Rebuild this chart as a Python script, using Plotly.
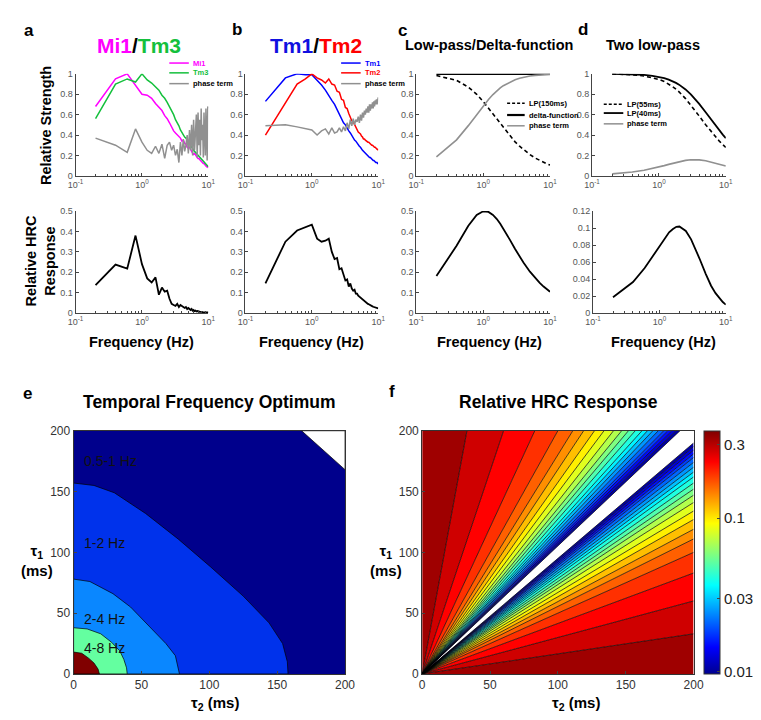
import math
import plotly.graph_objects as go
from plotly.colors import sample_colorscale

W, H = 761, 720
FONT = "Liberation Sans"

# ---------------- data: panels a, b (measured responses) ----------------
freq = [0.2, 0.4, 0.6, 0.8, 1.0, 1.2, 1.4, 1.6, 1.8, 2.0,
        2.2, 2.4, 2.6, 2.8, 3.0, 3.2, 3.4, 3.6, 3.8, 4.0,
        4.2, 4.4, 4.6, 4.8, 5.0, 5.2, 5.4, 5.6, 5.8, 6.0,
        6.2, 6.4, 6.6, 6.8, 7.0, 7.2, 7.4, 7.6, 7.8, 8.0,
        8.2, 8.4, 8.6, 8.8, 9.0, 9.2, 9.4, 9.6, 9.8, 10.0]

mi1 = [0.68, 0.95, 1.00, 0.88, 0.80, 0.79, 0.76, 0.71, 0.67, 0.64,
       0.59, 0.56, 0.52, 0.47, 0.44, 0.42, 0.40, 0.38, 0.37, 0.34,
       0.35, 0.32, 0.31, 0.28, 0.27, 0.28, 0.25, 0.24, 0.22, 0.21,
       0.22, 0.20, 0.19, 0.18, 0.17, 0.17, 0.16, 0.15, 0.14, 0.14,
       0.13, 0.12, 0.12, 0.11, 0.10, 0.10, 0.09, 0.09, 0.08, 0.08]
tm3 = [0.56, 0.90, 0.95, 0.92, 1.00, 0.94, 0.91, 0.87, 0.84, 0.79,
       0.76, 0.72, 0.68, 0.64, 0.60, 0.55, 0.52, 0.49, 0.45, 0.42,
       0.40, 0.38, 0.37, 0.34, 0.33, 0.31, 0.30, 0.28, 0.27, 0.25,
       0.24, 0.23, 0.22, 0.21, 0.20, 0.19, 0.18, 0.18, 0.17, 0.16,
       0.15, 0.15, 0.14, 0.13, 0.13, 0.12, 0.11, 0.11, 0.10, 0.09]
phase_a = [0.37, 0.30, 0.23, 0.46, 0.33, 0.25, 0.22, 0.29, 0.22, 0.31,
           0.17, 0.30, 0.33, 0.25, 0.30, 0.20, 0.26, 0.13, 0.33, 0.20,
           0.36, 0.24, 0.30, 0.40, 0.22, 0.45, 0.25, 0.50, 0.20, 0.55,
           0.25, 0.42, 0.60, 0.18, 0.62, 0.30, 0.55, 0.20, 0.66, 0.35,
           0.50, 0.18, 0.62, 0.40, 0.20, 0.66, 0.45, 0.15, 0.68, 0.66]
hrc_a = [0.137, 0.238, 0.218, 0.380, 0.240, 0.170, 0.150, 0.175, 0.090, 0.125,
         0.105, 0.110, 0.070, 0.045, 0.040, 0.035, 0.045, 0.030, 0.040, 0.035,
         0.030, 0.025, 0.030, 0.020, 0.025, 0.020, 0.015, 0.020, 0.012, 0.015,
         0.010, 0.012, 0.008, 0.010, 0.007, 0.008, 0.006, 0.007, 0.005, 0.006,
         0.005, 0.005, 0.004, 0.005, 0.004, 0.004, 0.004, 0.003, 0.004, 0.003]

tm1 = [0.73, 0.96, 1.00, 0.99, 0.99, 0.94, 0.89, 0.84, 0.78, 0.74,
       0.70, 0.65, 0.61, 0.57, 0.52, 0.50, 0.46, 0.44, 0.42, 0.39,
       0.37, 0.35, 0.34, 0.32, 0.30, 0.29, 0.28, 0.27, 0.25, 0.24,
       0.23, 0.22, 0.21, 0.21, 0.20, 0.19, 0.18, 0.18, 0.17, 0.16,
       0.16, 0.15, 0.15, 0.14, 0.14, 0.13, 0.13, 0.13, 0.12, 0.12]
tm2 = [0.40, 0.72, 0.90, 0.95, 1.00, 0.96, 0.94, 0.91, 0.95, 0.90,
       0.89, 0.83, 0.82, 0.75, 0.74, 0.67, 0.66, 0.61, 0.58, 0.54,
       0.53, 0.50, 0.48, 0.45, 0.43, 0.42, 0.41, 0.39, 0.38, 0.36,
       0.36, 0.35, 0.34, 0.34, 0.33, 0.33, 0.32, 0.31, 0.31, 0.30,
       0.30, 0.29, 0.29, 0.28, 0.28, 0.27, 0.27, 0.26, 0.26, 0.25]
phase_b = [0.49, 0.50, 0.48, 0.46, 0.45, 0.40, 0.44, 0.46, 0.41, 0.47,
           0.42, 0.43, 0.47, 0.43, 0.48, 0.44, 0.52, 0.46, 0.55, 0.49,
           0.56, 0.50, 0.55, 0.53, 0.58, 0.52, 0.60, 0.54, 0.62, 0.57,
           0.64, 0.60, 0.66, 0.62, 0.68, 0.62, 0.70, 0.64, 0.70, 0.66,
           0.72, 0.66, 0.73, 0.68, 0.74, 0.70, 0.75, 0.70, 0.74, 0.77]
hrc_b = [0.146, 0.350, 0.405, 0.420, 0.433, 0.365, 0.350, 0.355, 0.365, 0.300,
         0.265, 0.270, 0.215, 0.220, 0.185, 0.160, 0.165, 0.130, 0.145, 0.120,
         0.110, 0.115, 0.095, 0.095, 0.085, 0.080, 0.077, 0.070, 0.068, 0.062,
         0.058, 0.055, 0.050, 0.048, 0.045, 0.043, 0.040, 0.038, 0.036, 0.034,
         0.033, 0.031, 0.030, 0.029, 0.028, 0.027, 0.026, 0.025, 0.024, 0.023]

# ---------------- data: panels c, d (model curves) ----------------
freq_s = [0.2, 0.4, 0.6, 0.8, 1.0, 1.2, 1.4, 1.6, 1.8, 2.0,
          2.5, 3.0, 3.5, 4.0, 5.0, 6.0, 7.0, 8.0, 9.0, 10.0]
lp150 = [0.983, 0.936, 0.870, 0.799, 0.728, 0.662, 0.604, 0.553, 0.508, 0.469,
         0.391, 0.333, 0.290, 0.256, 0.208, 0.174, 0.150, 0.131, 0.117, 0.105]
delta_fn = [1.0, 1.0, 1.0, 1.0, 1.0, 1.0, 1.0, 1.0, 1.0, 1.0,
            1.0, 1.0, 1.0, 1.0, 1.0, 1.0, 1.0, 1.0, 1.0, 1.0]
phase_c = [0.185, 0.353, 0.492, 0.602, 0.686, 0.749, 0.797, 0.834, 0.862, 0.884,
           0.920, 0.942, 0.957, 0.967, 0.978, 0.985, 0.989, 0.991, 0.993, 0.994]
hrc_c = [0.182, 0.330, 0.428, 0.481, 0.499, 0.496, 0.481, 0.461, 0.438, 0.415,
         0.360, 0.314, 0.278, 0.248, 0.203, 0.171, 0.148, 0.130, 0.116, 0.105]
lp55 = [0.998, 0.991, 0.979, 0.964, 0.945, 0.924, 0.900, 0.875, 0.849, 0.823,
        0.757, 0.694, 0.637, 0.586, 0.501, 0.434, 0.382, 0.340, 0.306, 0.278]
lp40 = [0.999, 0.995, 0.989, 0.980, 0.970, 0.957, 0.943, 0.928, 0.911, 0.894,
        0.847, 0.799, 0.751, 0.705, 0.623, 0.553, 0.494, 0.445, 0.404, 0.370]
phase_d = [0.019, 0.037, 0.055, 0.071, 0.087, 0.100, 0.112, 0.122, 0.131, 0.139,
           0.151, 0.157, 0.158, 0.156, 0.147, 0.134, 0.125, 0.114, 0.105, 0.097]
hrc_d = [0.0187, 0.0366, 0.0530, 0.0674, 0.0793, 0.0884, 0.0951, 0.0990, 0.1015, 0.1019,
         0.0967, 0.0868, 0.0754, 0.0645, 0.0459, 0.0322, 0.0235, 0.0173, 0.0130, 0.0099]

# ---------------- data: panel e (region boundaries, tau2 / tau1 in ms) ----------------
e_b160_t2 = [0, 15, 30, 53, 77, 101, 125, 144, 154, 157.5, 158]
e_b160_t1 = [157, 155, 149, 132, 111, 88, 64, 42, 25, 10, 0]
e_b80_t2 = [0, 12, 29, 42, 53, 61, 68, 75, 77, 78]
e_b80_t1 = [78, 76, 66, 55, 42, 33, 25, 15, 6, 0]
e_b40_t2 = [0, 10, 20, 28, 34, 37, 39, 39.5]
e_b40_t1 = [38, 37, 33, 26, 19, 12, 5, 0]
e_b20_t2 = [0, 6, 11, 15, 18, 19]
e_b20_t1 = [18, 17, 13, 9, 4, 0]
e_white_t2 = [168, 200, 200]
e_white_t1 = [200, 200, 168]
e_labels = ["0.5-1 Hz", "1-2 Hz", "2-4 Hz", "4-8 Hz"]
e_label_t1 = [175, 108, 45, 21]

# ---------------- data: panel f (contour boundary rays, position on edge in ms) ----------------
f_bounds = [33, 60, 83, 100, 111, 119, 127, 134, 141, 147, 152,
            157, 162, 166, 170, 174, 178, 181, 184, 187, 190]
f_band_vals = [0.330, 0.278, 0.233, 0.196, 0.165, 0.139, 0.117, 0.098, 0.083, 0.070,
               0.058, 0.049, 0.041, 0.035, 0.029, 0.025, 0.021, 0.018, 0.015, 0.0125, 0.0105]
cbar_ticks = [0.01, 0.03, 0.1, 0.3]
cbar_min, cbar_max = 0.0097, 0.37

# ---------------- figure ----------------
fig = go.Figure()

boxes = {1: (61, 197, 60, 164), 2: (235, 371, 60, 164), 3: (410, 547, 60, 164), 4: (590, 727, 60, 164),
         5: (61, 197, 200, 304), 6: (235, 371, 200, 304), 7: (410, 547, 200, 304), 8: (591, 727, 200, 304),
         9: (59, 337, 424, 672), 10: (416, 694, 424, 672)}


def ax(n):
    return ("x" if n == 1 else f"x{n}"), ("y" if n == 1 else f"y{n}")


def line(n, x, y, color, width=1.5, dash=None):
    xa, ya = ax(n)
    fig.add_trace(go.Scatter(x=x, y=y, mode="lines", xaxis=xa, yaxis=ya,
                             line=dict(color=color, width=width, dash=dash),
                             showlegend=False, hoverinfo="skip"))


MAG, GRN, BLU, RED, GRY = "#FF00FF", "#14C03C", "#0000FF", "#FF0000", "#909090"

line(1, freq, mi1, MAG)
line(1, freq, tm3, GRN)
line(1, freq, phase_a, GRY)
line(2, freq, tm1, BLU)
line(2, freq, tm2, RED)
line(2, freq, phase_b, GRY)
line(3, freq_s, lp150, "black", 1.6, "4px,3px")
line(3, freq_s, delta_fn, "black", 2.2)
line(3, freq_s, phase_c, GRY, 1.6)
line(4, freq_s, lp55, "black", 1.6, "4px,3px")
line(4, freq_s, lp40, "black", 1.8)
line(4, freq_s, phase_d, GRY, 1.6)
line(5, freq, hrc_a, "black", 1.8)
line(6, freq, hrc_b, "black", 1.8)
line(7, freq_s, hrc_c, "black", 1.8)
line(8, freq_s, hrc_d, "black", 1.8)

# panel e filled regions
def poly(n, xs, ys, fill, lw=0.7, lc="black"):
    xa, ya = ax(n)
    fig.add_trace(go.Scatter(x=xs, y=ys, mode="lines", fill="toself", fillcolor=fill,
                             line=dict(color=lc, width=lw), xaxis=xa, yaxis=ya,
                             showlegend=False, hoverinfo="skip"))

poly(9, [0, 0, 200, 200, 0], [0, 200, 200, 0, 0], "rgb(0,0,140)", 0)
poly(9, e_white_t2 + [e_white_t2[0]], e_white_t1 + [e_white_t1[0]], "white", 0.7)
poly(9, [0] + e_b160_t2 + [0], [0] + e_b160_t1 + [0], "rgb(0,50,235)")
poly(9, [0] + e_b80_t2 + [0], [0] + e_b80_t1 + [0], "rgb(10,135,255)")
poly(9, [0] + e_b40_t2 + [0], [0] + e_b40_t1 + [0], "rgb(100,255,160)")
poly(9, [0] + e_b20_t2 + [0], [0] + e_b20_t1 + [0], "rgb(128,0,0)")

# panel f colored bands
JET = [[0.0, "rgb(0,0,143)"], [0.11, "rgb(0,0,255)"], [0.365, "rgb(0,255,255)"],
       [0.62, "rgb(255,255,0)"], [0.873, "rgb(255,0,0)"], [1.0, "rgb(128,0,0)"]]
lmin, lmax = math.log10(cbar_min), math.log10(cbar_max)
pos = [(math.log10(v) - lmin) / (lmax - lmin) for v in f_band_vals]
band_cols = sample_colorscale(JET, pos)
edges = [0] + f_bounds
for i, col in enumerate(band_cols):
    a, b = edges[i], edges[i + 1]
    poly(10, [0, a, b, 0], [0, 200, 200, 0], col, 0)
    poly(10, [0, 200, 200, 0], [0, a, b, 0], col, 0)
rx, ry = [], []
for X in f_bounds:
    rx += [0, X, None, 0, 200, None]
    ry += [0, 200, None, 0, X, None]
line(10, rx, ry, "black", 0.7)

# colorbar carrier
fig.add_trace(go.Scatter(x=[100], y=[100], mode="markers", xaxis="x10", yaxis="y10",
                         marker=dict(size=0.1, color=[lmin], colorscale=JET, cmin=lmin, cmax=lmax,
                                     showscale=True,
                                     colorbar=dict(x=705 / W, xanchor="left", y=1 - 424 / H, yanchor="top",
                                                   len=248 / H, lenmode="fraction", thickness=16,
                                                   thicknessmode="pixels", xpad=0, ypad=0,
                                                   outlinewidth=1, outlinecolor="#333",
                                                   tickvals=[math.log10(t) for t in cbar_ticks],
                                                   ticktext=[str(t) for t in cbar_ticks],
                                                   ticks="inside", ticklen=3,
                                                   tickfont=dict(family=FONT, size=15, color="#222"))),
                         showlegend=False, hoverinfo="skip"))

# ---------------- axes ----------------
minor_vals = [m * 10 ** e for e in (-1, 0) for m in range(2, 10)]
layout = {}
for n, (x0, x1, y0, y1) in boxes.items():
    xs = "" if n == 1 else str(n)
    xdom = [x0 / W, x1 / W]
    ydom = [1 - y1 / H, 1 - y0 / H]
    base = dict(showline=True, linecolor="#444", linewidth=1, showgrid=False, zeroline=False,
                ticks="inside", ticklen=3, tickcolor="#444")
    if n <= 8:
        xaxis = dict(base, domain=xdom, anchor="y" + xs, type="log", range=[-1, 1],
                     tickvals=[0.1, 1, 10], ticktext=["10<sup>-1</sup>", "10<sup>0</sup>", "10<sup>1</sup>"],
                     tickfont=dict(family=FONT, size=9, color="#555"),
                     minor=dict(tickvals=minor_vals, ticks="inside", ticklen=2, tickcolor="#444"))
        if n <= 4:
            yt = [0, 0.2, 0.4, 0.6, 0.8, 1]
            yr = [0, 1.0]
            ytext = ["0", "0.2", "0.4", "0.6", "0.8", "1"]
        elif n < 8:
            yt = [0, 0.1, 0.2, 0.3, 0.4, 0.5]
            yr = [0, 0.5]
            ytext = ["0", "0.1", "0.2", "0.3", "0.4", "0.5"]
        else:
            yt = [0, 0.02, 0.04, 0.06, 0.08, 0.1, 0.12]
            yr = [0, 0.12]
            ytext = ["0", "0.02", "0.04", "0.06", "0.08", "0.1", "0.12"]
        yaxis = dict(base, domain=ydom, anchor="x" + xs, range=yr, tickvals=yt, ticktext=ytext,
                     tickfont=dict(family=FONT, size=9, color="#555"))
    else:
        tv = [0, 50, 100, 150, 200]
        xaxis = dict(base, domain=xdom, anchor="y" + xs, range=[0, 200], tickvals=tv, mirror=True,
                     tickfont=dict(family=FONT, size=12, color="#333"), linecolor="#333")
        yaxis = dict(base, domain=ydom, anchor="x" + xs, range=[0, 200], tickvals=tv, mirror=True,
                     tickfont=dict(family=FONT, size=12, color="#333"), linecolor="#333")
    layout["xaxis" + xs] = xaxis
    layout["yaxis" + xs] = yaxis

# ---------------- annotations ----------------
ann = []


def text(xp, yp, t, size, bold=True, color="black", xanchor="center", angle=0):
    ann.append(dict(x=xp / W, y=1 - yp / H, xref="paper", yref="paper", text=(f"<b>{t}</b>" if bold else t),
                    showarrow=False, xanchor=xanchor, yanchor="middle", textangle=angle,
                    font=dict(family=FONT, size=size, color=color)))


# panel letters
for lt, xp, yp in [("a", 13, 16), ("b", 226, 15), ("c", 396, 16), ("d", 581, 15), ("e", 12, 386), ("f", 385, 384)]:
    text(xp, yp, lt, 17)

# titles
text(126, 31, f"<span style='color:{MAG}'>Mi1</span>/<span style='color:{GRN}'>Tm3</span>", 21)
text(307, 31, f"<span style='color:#1010E0'>Tm1</span>/<span style='color:{RED}'>Tm2</span>", 21)
text(484, 31, "Low-pass/Delta-function", 14.5)
text(652, 31, "Two low-pass", 14.5)
text(198, 395, "Temporal Frequency Optimum", 17.5)
text(556, 395, "Relative HRC Response", 17.5)

# axis titles
text(31, 113, "Relative Strength", 14.5, angle=-90)
text(25, 250, "Relative HRC<br>Response", 14.5, angle=-90)
for xc in (129, 303, 485, 663):
    text(xc, 333, "Frequency (Hz)", 14.5)
text(22, 556, "τ<sub>1</sub><br>(ms)", 15)
text(379, 556, "τ<sub>1</sub><br>(ms)", 15)
text(204, 702, "τ<sub>2</sub> (ms)", 15)
text(574, 702, "τ<sub>2</sub> (ms)", 15)

# e region labels
for lab, t1 in zip(e_labels, e_label_t1):
    ann.append(dict(x=6, y=t1, xref="x9", yref="y9", text=lab, showarrow=False, xanchor="left",
                    yanchor="middle", font=dict(family=FONT, size=14, color="#111")))

# legends
shapes = []


def leg(x0, x1, yp, color, label, tcolor="black", dash=None, width=1.5, size=7.5):
    shapes.append(dict(type="line", xref="paper", yref="paper", x0=x0 / W, x1=x1 / W,
                       y0=1 - yp / H, y1=1 - yp / H, line=dict(color=color, width=width, dash=dash)))
    text(x1 + 2, yp, label, size, color=tcolor, xanchor="left")


leg(157, 177, 49, MAG, "Mi1", MAG)
leg(157, 177, 59, GRN, "Tm3", GRN)
leg(157, 177, 70, GRY, "phase term")
leg(333, 353, 49, BLU, "Tm1", BLU)
leg(333, 353, 59, RED, "Tm2", RED)
leg(333, 353, 70, GRY, "phase term")
leg(503, 521, 90, "black", "LP(150ms)", dash="3px,2px")
leg(503, 521, 102, "black", "delta-function", width=2.2)
leg(503, 521, 113, GRY, "phase term")
leg(602, 622, 91, "black", "LP(55ms)", dash="3px,2px")
leg(602, 622, 100, "black", "LP(40ms)", width=1.8)
leg(602, 622, 111, GRY, "phase term")

fig.update_layout(width=W, height=H, margin=dict(l=0, r=0, t=0, b=0),
                  paper_bgcolor="white", plot_bgcolor="rgba(0,0,0,0)",
                  showlegend=False, annotations=ann, shapes=shapes,
                  font=dict(family=FONT), **layout)

fig.write_html("out.html")
